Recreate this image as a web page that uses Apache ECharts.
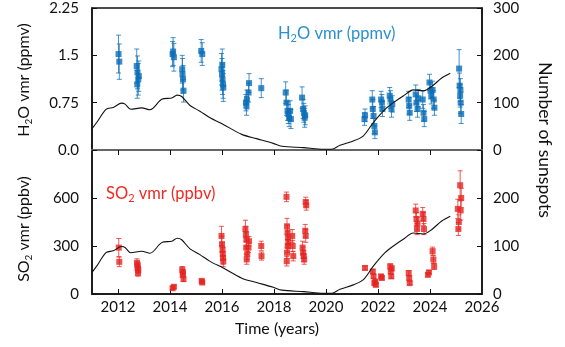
<!DOCTYPE html>
<html>
<head>
<meta charset="utf-8">
<script src="https://cdn.jsdelivr.net/npm/echarts@6/dist/echarts.min.js"></script>
<style>
  html, body { margin: 0; padding: 0; background: #fff; }
  #chart { width: 565px; height: 347px; }
</style>
</head>
<body>
<div id="chart"></div>
<script>
// H2O volume mixing ratio retrievals (ppmv) with 1-sigma errors
const h2oTime = [
  2012.02, 2012.05,
  2012.72, 2012.75, 2012.78, 2012.74, 2012.80,
  2014.10, 2014.15, 2014.12,
  2014.47, 2014.50, 2014.52, 2014.48,
  2015.20, 2015.24,
  2015.98, 2016.00, 2016.02, 2016.04, 2016.05, 2016.01,
  2016.92, 2016.94, 2016.96,
  2017.04, 2017.02,
  2017.51,
  2018.45, 2018.48, 2018.52, 2018.55, 2018.58, 2018.62, 2018.65,
  2019.08, 2019.12, 2019.15, 2019.18, 2019.20,
  2021.50, 2021.48,
  2021.78, 2021.80, 2021.83, 2021.86, 2021.88,
  2022.12, 2022.15, 2022.17,
  2022.45, 2022.48, 2022.52, 2022.55,
  2023.18, 2023.20, 2023.22,
  2023.45, 2023.48, 2023.52, 2023.55,
  2023.72, 2023.75, 2023.78,
  2023.98, 2024.02, 2024.05,
  2024.10, 2024.14, 2024.17,
  2025.12, 2025.14, 2025.16, 2025.18, 2025.20, 2025.17
];
const h2oValue = [
  1.52, 1.40,
  1.33, 1.23, 1.12, 1.04, 1.17,
  1.52, 1.47, 1.56,
  1.28, 1.12, 0.94, 1.20,
  1.57, 1.52,
  1.28, 1.20, 1.12, 1.04, 0.99, 1.35,
  0.75, 0.70, 0.80,
  1.06, 0.91,
  0.98,
  0.91, 0.75, 0.62, 0.57, 0.51, 0.62, 0.49,
  0.83, 0.65, 0.59, 0.51, 0.55,
  0.55, 0.49,
  0.80, 0.65, 0.54, 0.38, 0.28,
  0.80, 0.75, 0.65,
  0.86, 0.80, 0.65, 0.73,
  0.80, 0.70, 0.59,
  0.88, 0.75, 0.65, 0.82,
  0.80, 0.59, 0.49,
  1.07, 0.94, 0.86,
  0.95, 0.80, 0.67,
  1.29, 1.02, 0.86, 0.75, 0.57, 0.95
];
const h2oError = [
  0.30, 0.28,
  0.27, 0.26, 0.25, 0.22, 0.24,
  0.20, 0.22, 0.22,
  0.22, 0.22, 0.18, 0.25,
  0.18, 0.18,
  0.25, 0.25, 0.24, 0.22, 0.22, 0.25,
  0.13, 0.15, 0.15,
  0.15, 0.15,
  0.15,
  0.17, 0.20, 0.15, 0.15, 0.14, 0.16, 0.15,
  0.17, 0.15, 0.15, 0.15, 0.15,
  0.10, 0.10,
  0.14, 0.15, 0.15, 0.12, 0.10,
  0.13, 0.13, 0.12,
  0.13, 0.14, 0.13, 0.13,
  0.13, 0.13, 0.12,
  0.15, 0.14, 0.13, 0.14,
  0.14, 0.13, 0.12,
  0.13, 0.13, 0.13,
  0.14, 0.14, 0.12,
  0.30, 0.20, 0.18, 0.17, 0.15, 0.18
];

// SO2 volume mixing ratio retrievals (ppbv) with 1-sigma errors
const so2Time = [
  2012.03, 2012.05,
  2012.73, 2012.75, 2012.77, 2012.76, 2012.78,
  2014.10, 2014.15,
  2014.47, 2014.49, 2014.52, 2014.50,
  2015.22, 2015.24,
  2015.98, 2016.00, 2016.02, 2016.04, 2016.05, 2016.03,
  2016.90, 2016.92, 2016.94, 2016.93, 2016.95, 2016.97,
  2017.04, 2017.02,
  2017.51, 2017.52,
  2018.48, 2018.50, 2018.52, 2018.54, 2018.55, 2018.53, 2018.50, 2018.49,
  2018.70, 2018.72, 2018.74,
  2019.10, 2019.12, 2019.14, 2019.16,
  2019.22, 2019.24, 2019.20, 2019.22,
  2021.50,
  2021.80, 2021.83, 2021.86, 2021.90, 2021.92,
  2022.12, 2022.15,
  2022.47, 2022.49, 2022.51, 2022.53,
  2023.18, 2023.20, 2023.22,
  2023.45, 2023.48, 2023.50, 2023.52,
  2023.72, 2023.75, 2023.77,
  2023.92, 2023.96,
  2024.10, 2024.13, 2024.16,
  2025.07, 2025.09, 2025.11,
  2025.16, 2025.18, 2025.20
];
const so2Value = [
  290, 201,
  195, 163, 131, 180, 150,
  36, 45,
  152, 120, 93, 135,
  82, 72,
  363, 311, 279, 226, 205, 250,
  406, 374, 342, 290, 216, 250,
  330, 290,
  300, 237,
  607, 423, 385, 353, 321, 300, 258, 205,
  363, 300, 237,
  290, 258, 237, 216,
  575, 554, 395, 363,
  163,
  141, 110, 68, 78, 57,
  110, 100,
  173, 141, 110, 160,
  131, 100, 68,
  522, 469, 406, 440,
  501, 469, 406,
  120, 135,
  268, 216, 173,
  532, 406, 450,
  680, 522, 600
];
const so2Error = [
  57, 30,
  25, 20, 20, 20, 20,
  10, 10,
  20, 18, 15, 18,
  10, 10,
  60, 50, 45, 40, 35, 40,
  55, 50, 45, 40, 30, 35,
  30, 30,
  30, 25,
  30, 50, 45, 40, 40, 40, 35, 30,
  40, 35, 30,
  40, 35, 35, 30,
  30, 30, 40, 40,
  12,
  12, 12, 12, 10, 10,
  12, 10,
  15, 15, 12, 15,
  15, 12, 10,
  40, 40, 35, 40,
  40, 40, 35,
  12, 12,
  25, 25, 20,
  60, 40, 45,
  90, 60, 60
];

// Smoothed sunspot number
const sunspotTime = [
  2011.0, 2011.18, 2011.54, 2011.82, 2012.14, 2012.27, 2012.49, 2012.91, 2013.23,
  2013.68, 2014.07, 2014.28, 2014.45, 2014.77, 2015.15, 2015.54, 2016.05, 2016.76,
  2017.33, 2017.97, 2018.30, 2019.13, 2019.90, 2020.22, 2020.54, 2021.05, 2021.44,
  2021.82, 2022.27, 2022.59, 2022.97, 2023.36, 2023.74, 2024.06, 2024.45, 2024.78
];
const sunspotCount = [
  45, 58, 86, 90, 99, 97, 86, 89, 85,
  107, 110, 116, 113, 94, 82, 68, 54, 33,
  24, 14, 8, 5, 1.5, 1.5, 10, 19, 30,
  58, 86, 100, 114, 127, 125, 134, 152, 162
];

const yearTicks = [2012, 2014, 2016, 2018, 2020, 2022, 2024, 2026];

const BLUE = '#0A6EB8';
const BLUE_LABEL = '#2A90D2';
const RED = '#E52420';
const RED_LABEL = '#F02A22';
const INK = '#111';
const FONT = 'Lato';

const zip2 = (a, b) => a.map((v, i) => [v, b[i]]);
const errRows = (t, v, e) => t.map((x, i) => [x, v[i] - e[i], v[i] + e[i]]);

// vertical error bar with short caps, drawn through the axis scales
function errorBars(xi, yi, rows, color) {
  return {
    type: 'custom',
    xAxisIndex: xi,
    yAxisIndex: yi,
    data: rows,
    encode: { x: 0, y: [1, 2] },
    z: 2,
    renderItem: function (params, api) {
      const x = api.value(0);
      const lo = api.coord([x, api.value(1)]);
      const hi = api.coord([x, api.value(2)]);
      const hw = 2.5;
      const st = { stroke: color, lineWidth: 1, opacity: 0.75 };
      return {
        type: 'group',
        children: [
          { type: 'line', shape: { x1: lo[0], y1: lo[1], x2: hi[0], y2: hi[1] }, style: st },
          { type: 'line', shape: { x1: lo[0] - hw, y1: lo[1], x2: lo[0] + hw, y2: lo[1] }, style: st },
          { type: 'line', shape: { x1: hi[0] - hw, y1: hi[1], x2: hi[0] + hw, y2: hi[1] }, style: st }
        ]
      };
    }
  };
}

const labelStyle = { color: INK, fontFamily: FONT, fontSize: 15 };
const tickInside = { show: true, inside: true, length: 5, lineStyle: { color: INK, width: 1 } };

// rich styles for a formula with a subscript (graphic text uses fill)
const subRich = (color, size) => ({
  a: { fill: color, fontFamily: FONT, fontSize: size, lineHeight: 20 },
  s: { fill: color, fontFamily: FONT, fontSize: Math.round(size * 0.65), lineHeight: 10, verticalAlign: 'bottom' }
});

const chart = echarts.init(document.getElementById('chart'), null, { renderer: 'canvas' });

chart.setOption({
  animation: false,
  backgroundColor: '#fff',
  grid: [
    { left: 92, right: 83, top: 8, height: 142, show: true, borderColor: INK, borderWidth: 1.5 },
    { left: 92, right: 83, top: 150, height: 144, show: true, borderColor: INK, borderWidth: 1.5 }
  ],
  xAxis: [
    { // upper panel, ticks on top edge
      gridIndex: 0, type: 'value', position: 'top', min: 2011, max: 2026,
      axisLine: { show: true, lineStyle: { color: INK, width: 1.5 } },
      axisTick: Object.assign({ customValues: yearTicks.slice(0, 7) }, tickInside),
      axisLabel: { show: false }, splitLine: { show: false }
    },
    { // lower panel, time axis
      gridIndex: 1, type: 'value', position: 'bottom', min: 2011, max: 2026,
      axisLine: { show: true, lineStyle: { color: INK, width: 1.5 } },
      axisTick: Object.assign({ customValues: yearTicks.slice(0, 7) }, tickInside),
      axisLabel: Object.assign({ customValues: yearTicks, margin: 6, formatter: v => String(v) }, labelStyle),
      splitLine: { show: false }
    },
    { // divider between the panels
      gridIndex: 0, type: 'value', position: 'bottom', min: 2011, max: 2026,
      axisLine: { show: true, lineStyle: { color: '#666', width: 2 } },
      axisTick: { show: false }, axisLabel: { show: false }, splitLine: { show: false }
    }
  ],
  yAxis: [
    {
      gridIndex: 0, type: 'value', position: 'left', min: 0, max: 2.25, interval: 0.75,
      axisLine: { show: true, lineStyle: { color: INK, width: 1.5 } },
      axisTick: tickInside,
      axisLabel: Object.assign({ margin: 13, formatter: v => (v === 0 ? '0.0' : String(v)) }, labelStyle),
      splitLine: { show: false }
    },
    {
      gridIndex: 0, type: 'value', position: 'right', min: 0, max: 300, interval: 100,
      axisLine: { show: true, lineStyle: { color: INK, width: 1.5 } },
      axisTick: tickInside,
      axisLabel: Object.assign({ margin: 11 }, labelStyle),
      splitLine: { show: false }
    },
    {
      gridIndex: 1, type: 'value', position: 'left', min: 0, max: 900, interval: 300,
      axisLine: { show: true, lineStyle: { color: INK, width: 1.5 } },
      axisTick: tickInside,
      axisLabel: Object.assign({ margin: 13, showMaxLabel: false }, labelStyle),
      splitLine: { show: false }
    },
    {
      gridIndex: 1, type: 'value', position: 'right', min: 0, max: 300, interval: 100,
      axisLine: { show: true, lineStyle: { color: INK, width: 1.5 } },
      axisTick: tickInside,
      axisLabel: Object.assign({ margin: 11, showMaxLabel: false }, labelStyle),
      splitLine: { show: false }
    }
  ],
  graphic: [
    { type: 'text', x: 278, y: 34, z: 10,
      style: { text: '{a|H}{s|2}{a|O vmr (ppmv)}', rich: subRich(BLUE_LABEL, 16.5), verticalAlign: 'middle' } },
    { type: 'text', x: 106, y: 194, z: 10,
      style: { text: '{a|SO}{s|2}{a| vmr (ppbv)}', rich: subRich(RED_LABEL, 16.5), verticalAlign: 'middle' } },
    { type: 'text', x: 24, y: 80, rotation: Math.PI / 2, z: 10,
      style: { text: '{a|H}{s|2}{a|O vmr (ppmv)}', rich: subRich(INK, 16), align: 'center', verticalAlign: 'middle' } },
    { type: 'text', x: 24, y: 229, rotation: Math.PI / 2, z: 10,
      style: { text: '{a|SO}{s|2}{a| vmr (ppbv)}', rich: subRich(INK, 16), align: 'center', verticalAlign: 'middle' } },
    { type: 'text', x: 545, y: 140, rotation: -Math.PI / 2, z: 10,
      style: { text: 'Number of sunspots', fill: INK, font: '17.5px ' + FONT, align: 'center', verticalAlign: 'middle' } },
    { type: 'text', x: 277, y: 329, z: 10,
      style: { text: 'Time (years)', fill: INK, font: '16px ' + FONT, align: 'center', verticalAlign: 'middle' } }
  ],
  series: [
    errorBars(0, 0, errRows(h2oTime, h2oValue, h2oError), BLUE),
    {
      type: 'scatter', xAxisIndex: 0, yAxisIndex: 0, data: zip2(h2oTime, h2oValue),
      symbol: 'rect', symbolSize: 6, itemStyle: { color: BLUE }, z: 3
    },
    {
      type: 'line', xAxisIndex: 0, yAxisIndex: 1, data: zip2(sunspotTime, sunspotCount),
      showSymbol: false, smooth: 0.3, lineStyle: { color: INK, width: 1.1 }, z: 4
    },
    errorBars(1, 2, errRows(so2Time, so2Value, so2Error), RED),
    {
      type: 'scatter', xAxisIndex: 1, yAxisIndex: 2, data: zip2(so2Time, so2Value),
      symbol: 'rect', symbolSize: 6, itemStyle: { color: RED }, z: 3
    },
    {
      type: 'line', xAxisIndex: 1, yAxisIndex: 3, data: zip2(sunspotTime, sunspotCount),
      showSymbol: false, smooth: 0.3, lineStyle: { color: INK, width: 1.1 }, z: 4
    }
  ]
});
</script>
</body>
</html>
